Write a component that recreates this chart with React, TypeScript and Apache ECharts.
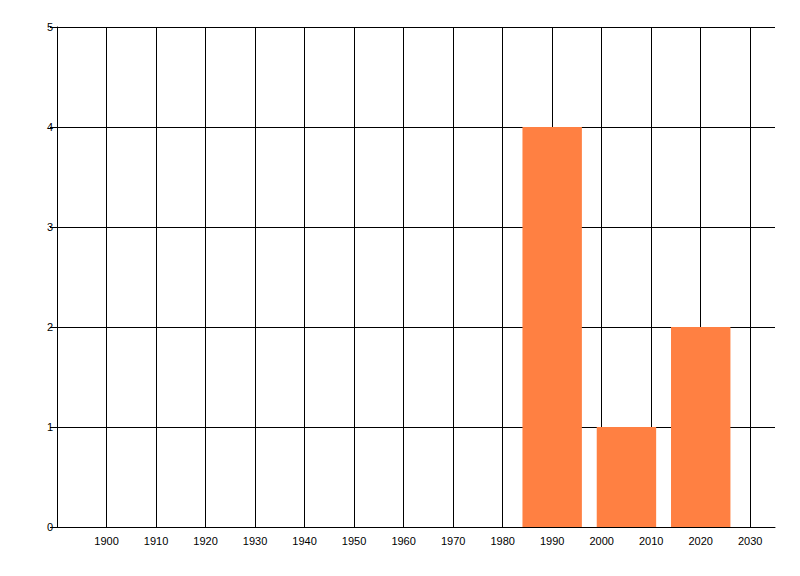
import React, { useEffect, useRef } from "react";
import * as echarts from "echarts";

const years = [1990, 2005, 2020];
const counts = [4, 1, 2];
const barHalfWidthYears = 6;

export default function App() {
  const ref = useRef<HTMLDivElement>(null);
  useEffect(() => {
    if (!ref.current) return;
    const chart = echarts.init(ref.current, undefined, { renderer: "svg" });
    const font = "Liberation Sans, Arial, sans-serif";
    chart.setOption({
      animation: false,
      grid: { left: 57, right: 25, top: 27, bottom: 49 },
      xAxis: {
        type: "value",
        min: 1890,
        max: 2035,
        interval: 10,
        axisLine: { show: true, lineStyle: { color: "#000", width: 1 } },
        axisTick: { show: false },
        axisLabel: {
          showMinLabel: false,
          showMaxLabel: false,
          color: "#000",
          fontSize: 11,
          fontFamily: font,
          margin: 8,
          formatter: (v: number) => String(v),
        },
        splitLine: { show: true, showMaxLine: false, lineStyle: { color: "#000", width: 1 } },
      },
      yAxis: {
        type: "value",
        min: 0,
        max: 5,
        interval: 1,
        axisLine: { show: true, lineStyle: { color: "#000", width: 1 } },
        axisTick: { show: true, length: 7, lineStyle: { color: "#000" } },
        axisLabel: { color: "#000", fontSize: 11, fontFamily: font, margin: 4 },
        splitLine: { show: true, lineStyle: { color: "#000", width: 1 } },
      },
      series: [
        {
          type: "custom",
          data: years.map((y, i) => [y, counts[i]]),
          encode: { x: 0, y: 1 },
          renderItem: (params: any, api: any) => {
            const x = api.value(0);
            const v = api.value(1);
            const p1 = api.coord([x - barHalfWidthYears, v]);
            const p2 = api.coord([x + barHalfWidthYears, 0]);
            return {
              type: "rect",
              shape: { x: p1[0], y: p1[1], width: p2[0] - p1[0], height: p2[1] - p1[1] },
              style: { fill: "#FF8042" },
            };
          },
          z: 3,
        },
      ],
    });
    return () => chart.dispose();
  }, []);
  return <div ref={ref} style={{ width: 800, height: 576, position: "absolute", left: 0, top: 0 }} />;
}
